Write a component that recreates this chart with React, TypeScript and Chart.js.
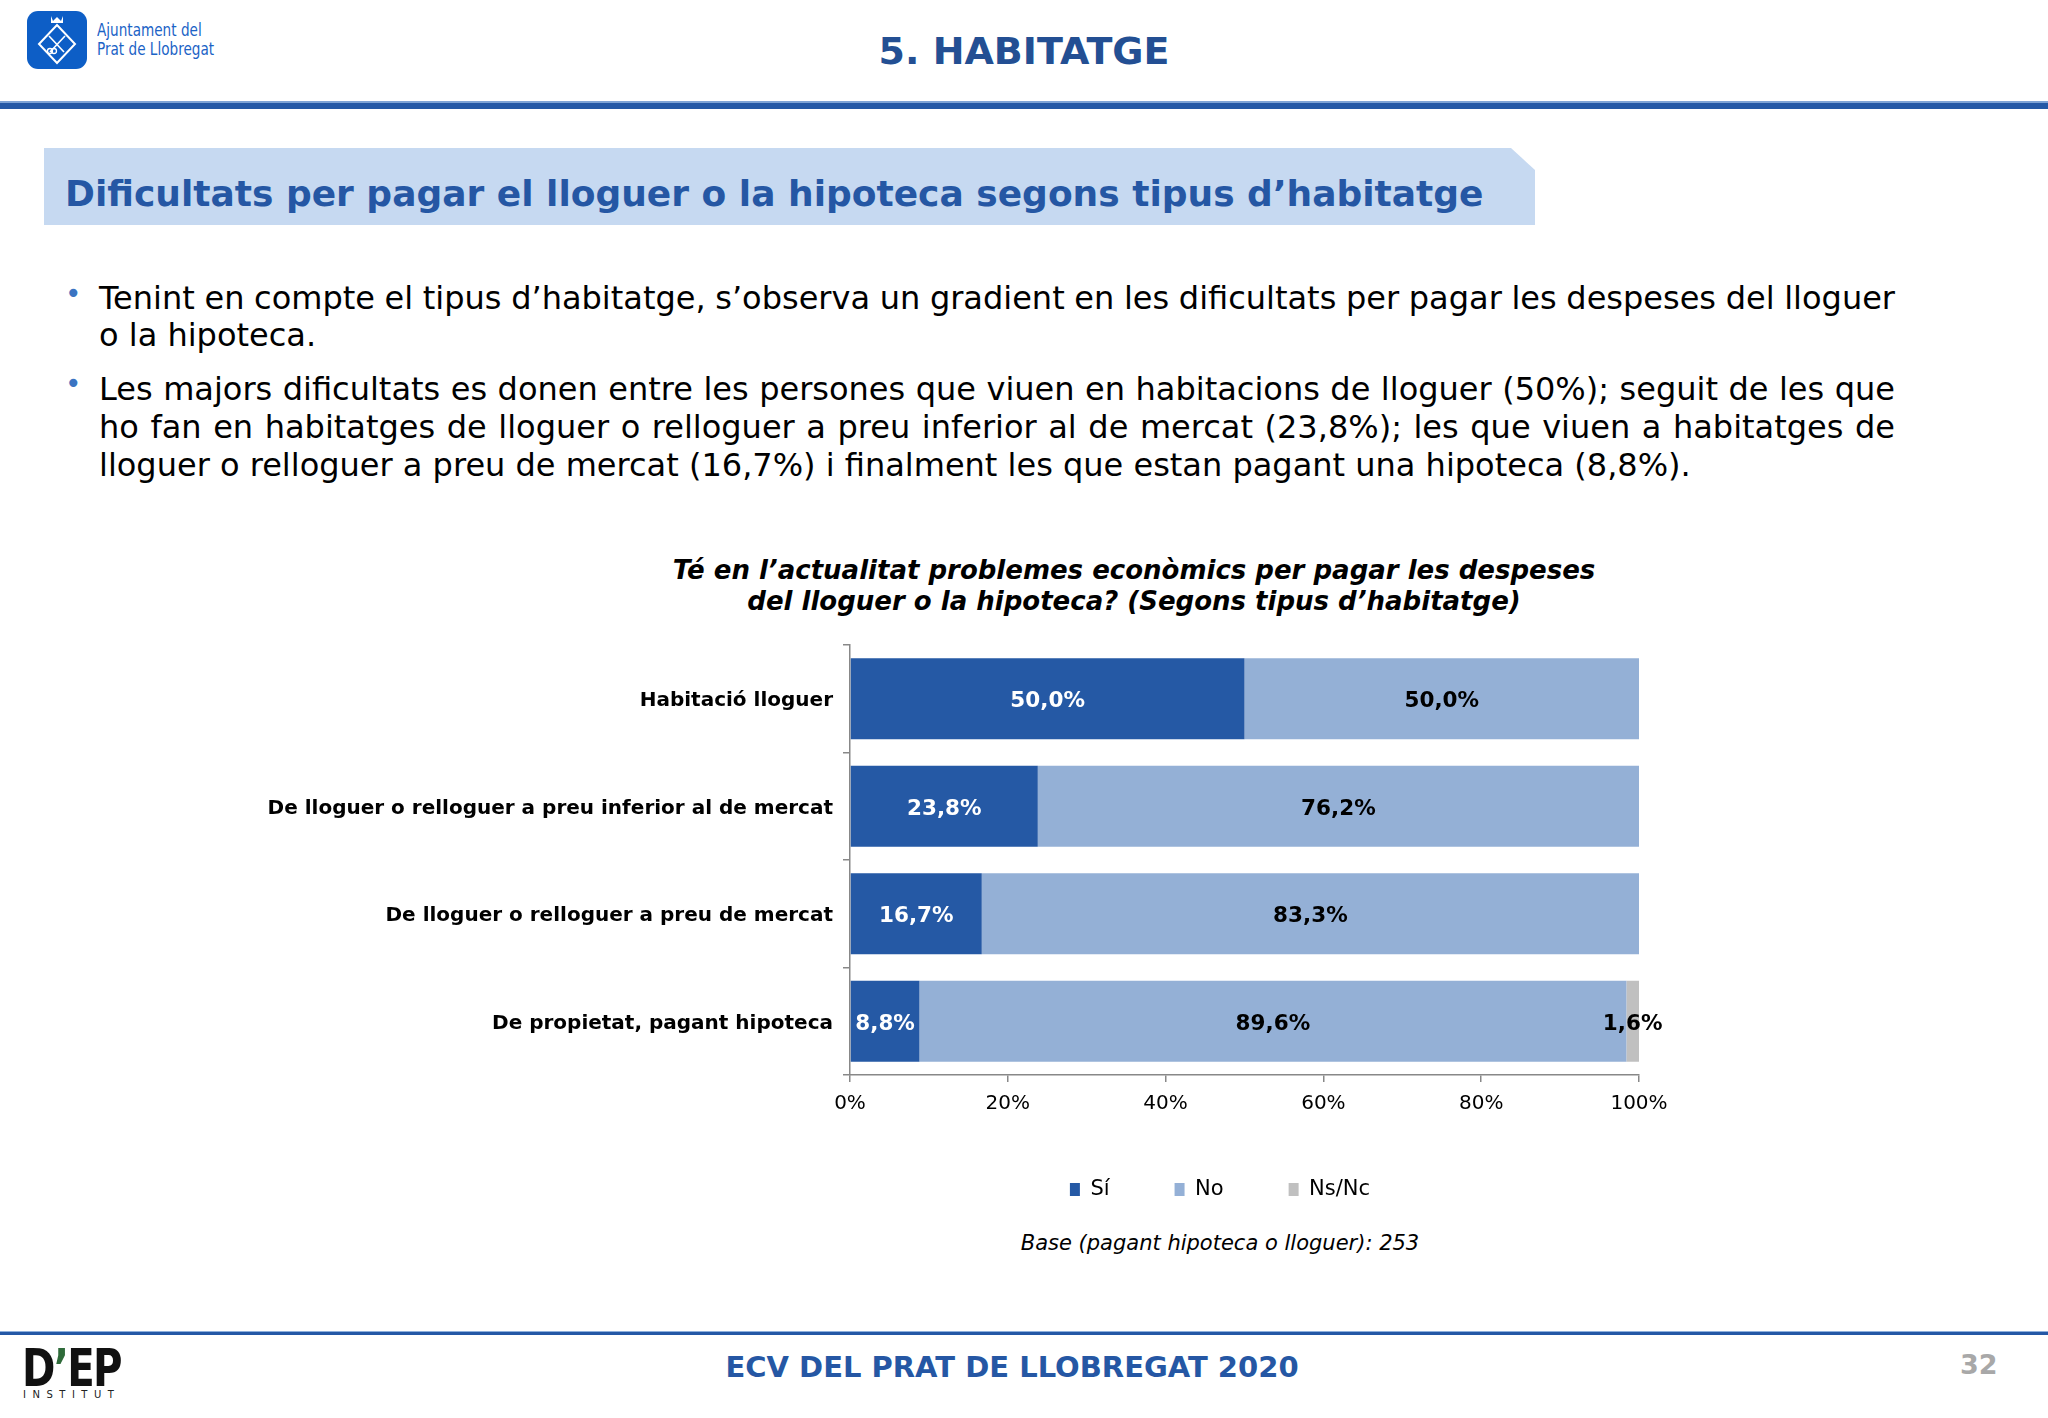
import React, { useEffect, useRef } from "react";
import { Chart, registerables } from "chart.js";

Chart.register(...registerables);

// ---------- data ----------
const categories = [
  "Habitació lloguer",
  "De lloguer o relloguer a preu inferior al de mercat",
  "De lloguer o relloguer a preu de mercat",
  "De propietat, pagant hipoteca",
];
const seriesNames = ["Sí", "No", "Ns/Nc"];
const siValues = [50.0, 23.8, 16.7, 8.8];
const noValues = [50.0, 76.2, 83.3, 89.6];
const nsncValues = [0, 0, 0, 1.6];
const xMin = 0;
const xMax = 100;
const xStep = 20;

const seriesColors = ["#2559a5", "#94b0d6", "#c0c0c0"];
const labelColors = ["#ffffff", "#000000", "#000000"];

const FONT = '"DejaVu Sans", Verdana, sans-serif';
const NARROW = '"Liberation Sans Narrow", "DejaVu Sans Condensed", sans-serif';

const fmt = (v: number) => v.toFixed(1).replace(".", ",") + "%";

const segLabels = {
  id: "segLabels",
  afterDatasetsDraw(chart: any) {
    const ctx = chart.ctx;
    chart.data.datasets.forEach((ds: any, di: number) => {
      const meta = chart.getDatasetMeta(di);
      if (meta.hidden) return;
      meta.data.forEach((el: any, i: number) => {
        const v = ds.data[i];
        if (!v) return;
        const { x, base, y } = el.getProps(["x", "base", "y"], true);
        ctx.save();
        ctx.font = `bold 21.5px ${FONT}`;
        ctx.fillStyle = labelColors[di];
        ctx.textAlign = "center";
        ctx.textBaseline = "middle";
        ctx.fillText(fmt(v), (x + base) / 2, y + 3);
        ctx.restore();
      });
    });
  },
};

const CANVAS_W = 2200;
const CANVAS_TOP = 623;
const CANVAS_H = 587;

function BarChart() {
  const ref = useRef<HTMLCanvasElement | null>(null);
  useEffect(() => {
    if (!ref.current) return;
    const data = [siValues, noValues, nsncValues];
    const chart = new Chart(ref.current, {
      type: "bar",
      data: {
        labels: categories,
        datasets: seriesNames.map((name, i) => ({
          label: name,
          data: data[i],
          backgroundColor: seriesColors[i],
          borderWidth: 0,
          categoryPercentage: 1,
          barPercentage: 0.755,
        })),
      },
      options: {
        indexAxis: "y",
        responsive: false,
        animation: false,
        devicePixelRatio: 1,
        layout: { padding: { left: 260, right: 20, top: 0, bottom: 0 } },
        plugins: {
          legend: {
            position: "bottom",
            labels: {
              boxWidth: 10,
              boxHeight: 13,
              padding: 65,
              color: "#000",
              font: { family: FONT, size: 21 },
            },
          },
          tooltip: { enabled: false },
          title: { display: false },
        },
        scales: {
          x: {
            stacked: true,
            min: xMin,
            max: xMax,
            ticks: {
              stepSize: xStep,
              callback: (v: any) => v + "%",
              color: "#000",
              font: { family: FONT, size: 20 },
              padding: 10,
            },
            grid: { drawOnChartArea: false, drawTicks: true, tickLength: 7, color: "#888", lineWidth: 1.5 },
            border: { color: "#888", width: 1.5 },
            afterFit: (s: any) => {
              s.height = 39;
            },
          },
          y: {
            stacked: true,
            ticks: {
              color: "#000",
              font: { family: FONT, size: 20, weight: "bold" },
              padding: 10,
              labelOffset: 2.5,
            },
            grid: { drawOnChartArea: false, drawTicks: true, tickLength: 7, color: "#888", lineWidth: 1.5, offset: true },
            border: { color: "#888", width: 1.5 },
            afterFit: (s: any) => {
              s.width = 590;
            },
          },
          spacer: {
            type: "category",
            axis: "y",
            position: "right",
            labels: categories,
            ticks: { display: false },
            grid: { display: false },
            border: { display: false },
            afterFit: (s: any) => {
              s.width = 541;
            },
          },
        },
      } as any,
      plugins: [segLabels],
    });
    return () => chart.destroy();
  }, []);
  return (
    <canvas
      ref={ref}
      width={CANVAS_W}
      height={CANVAS_H}
      style={{ position: "absolute", left: 0, top: CANVAS_TOP, width: CANVAS_W, height: CANVAS_H }}
    />
  );
}

const abs = (o: any) => ({ position: "absolute" as const, ...o });

export default function App() {
  useEffect(() => {
    document.body.style.margin = "0";
    document.documentElement.style.overflow = "hidden";
  }, []);

  const bulletLine = (text: string, center: number, justify: boolean) => (
    <div
      style={abs({
        left: 99,
        top: center - 19,
        width: 1796,
        height: 38,
        lineHeight: "38px",
        fontSize: 32,
        fontFamily: FONT,
        color: "#000",
        whiteSpace: "nowrap",
        wordSpacing: justify ? "-6px" : "0px",
        textAlign: justify ? "justify" : "left",
        textAlignLast: justify ? "justify" : "left",
      })}
    >
      {text}
    </div>
  );

  return (
    <div
      style={abs({
        left: 0,
        top: 0,
        width: 2048,
        height: 1418,
        background: "#ffffff",
        overflow: "hidden",
        fontFamily: FONT,
      })}
    >
      {/* header logo */}
      <svg width={60} height={58} viewBox="0 0 60 58" style={abs({ left: 27, top: 11 })}>
        <rect x={0} y={0} width={60} height={58} rx={11} fill="#0d5ec6" />
        <path d="M24 5 L26 10 L30 6 L34 10 L36 5 L36 12 L24 12 Z" fill="#fff" />
        <polygon points="30,14 48,33 30,52 12,33" fill="none" stroke="#fff" strokeWidth={2} />
        <line x1={22} y1={25} x2={37} y2={41} stroke="#fff" strokeWidth={1.6} />
        <line x1={38} y1={25} x2={23} y2={41} stroke="#fff" strokeWidth={1.6} />
        <circle cx={23} cy={40} r={2.5} fill="none" stroke="#fff" strokeWidth={1.3} />
        <circle cx={27} cy={40} r={2.5} fill="none" stroke="#fff" strokeWidth={1.3} />
      </svg>
      <div
        style={abs({
          left: 97,
          top: 20,
          fontFamily: NARROW,
          fontSize: 18,
          lineHeight: "19px",
          color: "#1b63c6",
          whiteSpace: "nowrap",
          transform: "scaleX(0.84)",
          transformOrigin: "0 0",
        })}
      >
        Ajuntament del
        <br />
        Prat de Llobregat
      </div>
      <div
        style={abs({
          left: 0,
          width: 2048,
          top: 29,
          lineHeight: "44px",
          textAlign: "center",
          fontSize: 38,
          fontWeight: "bold",
          color: "#234f93",
        })}
      >
        5. HABITATGE
      </div>
      <div style={abs({ left: 0, top: 101, width: 2048, height: 2, background: "#7ea3d6" })} />
      <div style={abs({ left: 0, top: 103, width: 2048, height: 6, background: "#2458a6" })} />

      {/* section title box */}
      <div
        style={abs({
          left: 44,
          top: 148,
          width: 1491,
          height: 77,
          background: "#c6d9f1",
          clipPath: "polygon(0 0, 1467px 0, 1491px 22px, 1491px 77px, 0 77px)",
        })}
      />
      <div
        style={abs({
          left: 65,
          top: 172,
          lineHeight: "44px",
          fontSize: 36,
          fontWeight: "bold",
          color: "#2557a4",
          whiteSpace: "nowrap",
        })}
      >
        Dificultats per pagar el lloguer o la hipoteca segons tipus d’habitatge
      </div>

      {/* bullets */}
      <div style={abs({ left: 65, top: 279, fontSize: 28, lineHeight: "30px", color: "#3b74c2" })}>•</div>
      <div style={abs({ left: 65, top: 369, fontSize: 28, lineHeight: "30px", color: "#3b74c2" })}>•</div>
      {bulletLine(
        "Tenint en compte el tipus d’habitatge, s’observa un gradient en les dificultats per pagar les despeses del lloguer",
        298,
        true
      )}
      {bulletLine("o la hipoteca.", 335, false)}
      {bulletLine(
        "Les majors dificultats es donen entre les persones que viuen en habitacions de lloguer (50%); seguit de les que",
        389,
        true
      )}
      {bulletLine(
        "ho fan en habitatges de lloguer o relloguer a preu inferior al de mercat (23,8%); les que viuen a habitatges de",
        427,
        true
      )}
      {bulletLine(
        "lloguer o relloguer a preu de mercat (16,7%) i finalment les que estan pagant una hipoteca (8,8%).",
        465,
        false
      )}

      {/* chart title */}
      <div
        style={abs({
          left: 634,
          width: 1000,
          top: 555,
          lineHeight: "31px",
          textAlign: "center",
          fontSize: 26,
          fontWeight: "bold",
          fontStyle: "italic",
          color: "#000",
        })}
      >
        Té en l’actualitat problemes econòmics per pagar les despeses
        <br />
        del lloguer o la hipoteca? (Segons tipus d’habitatge)
      </div>

      <BarChart />

      <div
        style={abs({
          left: 820,
          width: 800,
          top: 1230,
          lineHeight: "26px",
          textAlign: "center",
          fontSize: 21,
          fontStyle: "italic",
          color: "#000",
        })}
      >
        Base (pagant hipoteca o lloguer): 253
      </div>

      {/* footer */}
      <div style={abs({ left: 0, top: 1331, width: 2048, height: 1, background: "#8fb0dc" })} />
      <div style={abs({ left: 0, top: 1332, width: 2048, height: 3, background: "#2458a6" })} />
      <div
        style={abs({
          left: 22,
          top: 1343,
          fontFamily: NARROW,
          fontWeight: "bold",
          fontSize: 52,
          lineHeight: "50px",
          color: "#111",
          letterSpacing: -2,
          whiteSpace: "nowrap",
          transform: "scaleX(0.86)",
          transformOrigin: "0 0",
        })}
      >
        D<span style={{ color: "#2f6b3a" }}>’</span>EP
      </div>
      <div style={abs({ left: 23, top: 1389, fontSize: 10, lineHeight: "12px", letterSpacing: 6.5, color: "#222" })}>
        INSTITUT
      </div>
      <div
        style={abs({
          left: 0,
          width: 2024,
          top: 1350,
          lineHeight: "34px",
          textAlign: "center",
          fontSize: 29,
          fontWeight: "bold",
          color: "#2557a4",
        })}
      >
        ECV DEL PRAT DE LLOBREGAT 2020
      </div>
      <div style={abs({ left: 1960, top: 1350, lineHeight: "30px", fontSize: 27, fontWeight: "bold", color: "#a8a8a8" })}>
        32
      </div>
    </div>
  );
}
